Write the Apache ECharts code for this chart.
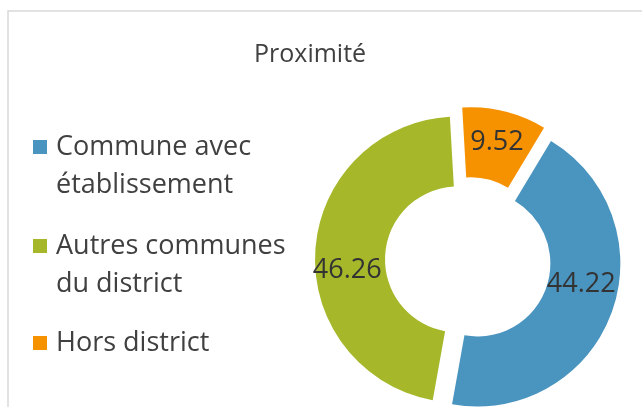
<!DOCTYPE html>
<html>
<head>
<meta charset="utf-8">
<script src="https://cdn.jsdelivr.net/npm/echarts@6/dist/echarts.min.js"></script>
<style>
  html, body { margin: 0; padding: 0; background: #fff; }
  #main { width: 642px; height: 407px; }
</style>
</head>
<body>
<div id="main"></div>
<script>
// données
var categories = ['Commune avec établissement', 'Autres communes du district', 'Hors district'];
var legendLines = [['Commune avec', 'établissement'], ['Autres communes', 'du district'], ['Hors district']];
var values = [44.22, 46.26, 9.52];
var colors = ['#4A94C0', '#A6B82A', '#F69100'];

var chart = echarts.init(document.getElementById('main'));

var font = '"Open Sans", sans-serif';
var lineH = 38;
var legendTops = [128, 227, 324];
// étiquette remontée (-1), descendue (1) ou centrée (0), comme dans Excel
var labelShift = [-1, 1, 0];

// une légende par entrée ; une ligne vide en tête pour aligner le carré sur la 1re ligne
var legends = categories.map(function (name, i) {
  var multi = legendLines[i].length > 1;
  return {
    left: 33,
    top: multi ? legendTops[i] - lineH : legendTops[i],
    orient: 'vertical',
    padding: 0,
    itemWidth: 14,
    itemHeight: 14,
    itemGap: 0,
    icon: 'rect',
    selectedMode: false,
    data: [name],
    formatter: function () {
      return (multi ? '\n' : '') + legendLines[i].join('\n');
    },
    textStyle: {
      fontFamily: font,
      fontSize: 27,
      color: '#404040',
      lineHeight: lineH,
      padding: [0, 0, 0, 4]
    }
  };
});

var option = {
  animation: false,
  color: colors,
  title: {
    text: 'Proximité',
    left: 254,
    top: 42,
    padding: 0,
    textStyle: {
      fontFamily: font,
      fontSize: 25,
      fontWeight: 'normal',
      color: '#404040'
    }
  },
  graphic: [{
    type: 'rect',
    shape: { x: 8, y: 11, width: 700, height: 500 },
    style: { fill: 'none', stroke: '#d9d9d9', lineWidth: 1.5 },
    silent: true
  }],
  legend: legends,
  series: [{
    type: 'pie',
    center: [468, 260],
    radius: [73, 143],
    startAngle: 59,
    clockwise: true,
    selectedMode: 'multiple',
    selectedOffset: 10,
    avoidLabelOverlap: false,
    emphasis: { disabled: true },
    label: {
      show: true,
      position: 'inside',
      formatter: function (p) {
        var v = p.value.toFixed(2);
        var s = labelShift[p.dataIndex];
        return s < 0 ? v + '\n ' : (s > 0 ? ' \n' + v : v);
      },
      fontFamily: font,
      fontSize: 27,
      lineHeight: 36,
      color: '#333333'
    },
    labelLine: { show: false },
    data: categories.map(function (name, i) {
      return { name: name, value: values[i], selected: true };
    })
  }]
};

chart.setOption(option);
</script>
</body>
</html>
